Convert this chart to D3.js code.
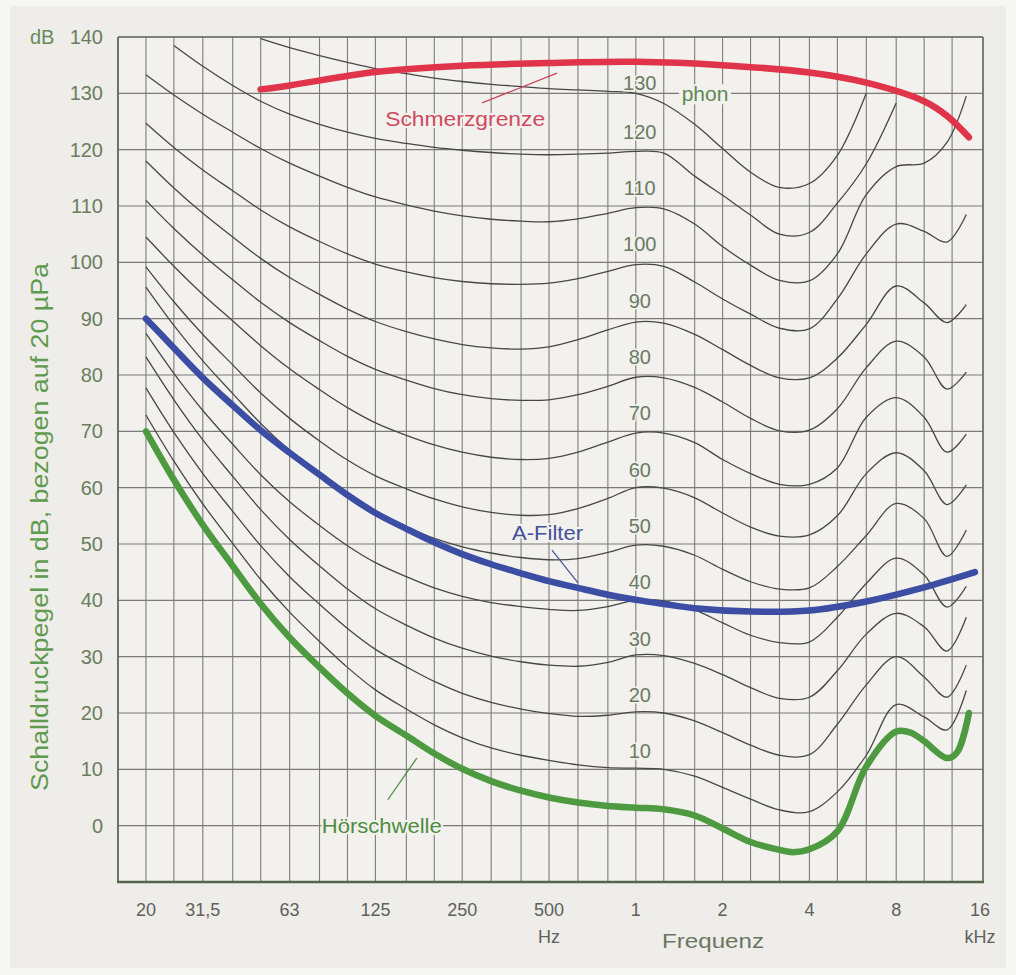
<!DOCTYPE html>
<html><head><meta charset="utf-8">
<script src="https://cdn.jsdelivr.net/npm/d3@7"></script>
<style>
html,body{margin:0;padding:0;background:#f7f7f5;}
svg{display:block;}
text{font-family:"Liberation Sans", Arial, Helvetica, sans-serif;}
</style></head><body>
<svg id="chart" width="1016" height="975"></svg>
<script>
// ---------- data ----------
const freqs = [20, 25, 31.5, 40, 50, 63, 80, 100, 125, 160, 200, 250, 315, 400, 500, 630, 800, 1000, 1250, 1600, 2000, 2500, 3150, 4000, 5000, 6300, 8000, 10000, 12000, 14000];
const phon130 = [null, null, null, null, 139.7, 138.1, 136.7, 135.5, 134.4, 133.5, 132.7, 132.1, 131.6, 131.2, 130.85, 130.6, 130.35, 130, 128.2, 124.5, 120.2, 116, 113.3, 114, 119, 130, null, null, null, null];
const phon120 = [null, 138.5, 134.8, 131.4, 128.6, 126.3, 124.5, 123.1, 122, 121.1, 120.4, 119.9, 119.5, 119.2, 119.1, 119.2, 119.4, 119.7, 119.4, 115.3, 111.9, 108.4, 105, 105.3, 110.5, 117.5, 128.3, null, null, null];
const phon110 = [133.3, 129.7, 126.3, 123.1, 120.2, 117.6, 115.3, 113.3, 111.6, 110.2, 109.1, 108.25, 107.65, 107.3, 107.2, 107.7, 108.7, 109.7, 109.5, 106.8, 102.8, 99.5, 96.8, 96.7, 101.5, 112, 117, 117.6, 121.3, 129.5];
const phon100 = [124.7, 120.4, 116.4, 112.7, 109.3, 106.3, 103.7, 101.5, 99.7, 98.3, 97.3, 96.6, 96.2, 96.1, 96.3, 97.1, 98.4, 99.6, 99.3, 96.5, 93.5, 90.8, 88.3, 88.2, 93.5, 101.5, 106.8, 105.5, 103.6, 108.5];
const phon90 = [118, 113.2, 108.7, 104.5, 100.7, 97.3, 94.3, 91.7, 89.5, 87.7, 86.4, 85.4, 84.8, 84.6, 85, 86.3, 88, 89.4, 89.2, 87.2, 84.5, 81.7, 79.5, 79.5, 83, 89, 95.8, 92.8, 89.3, 92.5];
const phon80 = [111, 106, 101.3, 96.9, 92.9, 89.3, 86.1, 83.3, 81, 79.1, 77.6, 76.5, 75.8, 75.5, 75.6, 76.5, 78, 79.6, 79.5, 77.8, 75.2, 72.3, 70.1, 70.2, 74, 81.3, 86, 83.2, 77.5, 80.5];
const phon70 = [104.5, 99.3, 94.3, 89.6, 85.2, 81.1, 77.4, 74.2, 71.5, 69.3, 67.6, 66.3, 65.4, 65, 65.2, 66.3, 68.1, 69.7, 69.7, 68, 65, 62.5, 60.6, 60.6, 63.5, 72.5, 76, 72.5, 66.3, 69.5];
const phon60 = [99.2, 93, 87.2, 81.8, 76.8, 72.3, 68.3, 64.9, 62.1, 59.8, 58, 56.6, 55.6, 55.1, 55.2, 56.3, 58.1, 60, 59.9, 58.2, 55.5, 53, 51.4, 51.6, 55, 62.5, 66.2, 63, 57, 60.5];
const phon50 = [95.6, 88.8, 82.5, 76.7, 71.4, 66.6, 62.3, 58.6, 55.5, 53, 51, 49.5, 48.4, 47.6, 47.2, 47.4, 48.5, 49.8, 49.6, 48, 45.5, 43.3, 42, 42.2, 46, 51.5, 57.2, 54.5, 47.8, 52.5];
const phon40 = [87.4, 80.3, 73.7, 67.7, 62.3, 57.5, 53.3, 49.7, 46.7, 44.2, 42.2, 40.7, 39.6, 38.9, 38.4, 38.2, 38.9, 40, 39.9, 38.3, 36, 33.8, 32.5, 32.6, 37, 43, 47.5, 44.5, 38.8, 42.5];
const phon30 = [83.2, 75.6, 68.5, 62, 56.1, 50.8, 46.1, 42, 38.5, 35.6, 33.3, 31.5, 30.1, 29.1, 28.5, 28.3, 29, 30.3, 30.2, 28.8, 26.8, 24.5, 22.6, 22.8, 27.5, 34, 37.7, 35.3, 31, 37];
const phon20 = [77.7, 69.8, 62.5, 55.8, 49.7, 44.2, 39.3, 35, 31.3, 28.2, 25.6, 23.5, 21.9, 20.7, 19.9, 19.4, 19.6, 20.2, 20, 18.6, 16.5, 14.3, 12.5, 12.6, 18, 25, 30, 26.4, 22.8, 28.5];
const phon10 = [72.9, 64.7, 57.1, 50.1, 43.7, 37.9, 32.7, 28.1, 24.1, 20.7, 17.9, 15.6, 13.8, 12.5, 11.6, 10.8, 10.3, 10.2, 10, 8.8, 6.8, 4.7, 2.8, 2.5, 6, 12.5, 21.5, 19.3, 17, 24];
const phonLevels = [10, 20, 30, 40, 50, 60, 70, 80, 90, 100, 110, 120, 130];

const thresholdFreqs = [20, 25, 31.5, 40, 50, 63, 80, 100, 125, 160, 200, 250, 315, 400, 500, 630, 800, 1000, 1250, 1600, 2000, 2500, 3150, 3500, 4000, 5000, 6300, 8000, 9000, 10000, 12000, 13000, 14300];
const thresholdDb = [70, 61.4, 53.4, 46.1, 39.4, 33.4, 28.1, 23.5, 19.5, 16, 12.8, 10.1, 7.9, 6.2, 5, 4.1, 3.5, 3.2, 2.9, 1.8, -0.5, -2.9, -4.3, -4.7, -4.2, -1, 10.5, 16.7, 16.5, 15, 12, 13, 20];

const aFilterFreqs = [20, 25, 31.5, 40, 50, 63, 80, 100, 125, 160, 200, 250, 315, 400, 500, 630, 800, 1000, 1600, 2500, 4000, 6300, 10000, 15000];
const aFilterDb = [90, 84.8, 79.5, 74.6, 70.2, 66.2, 62.3, 58.7, 55.5, 52.7, 50.3, 48.2, 46.4, 44.8, 43.4, 42.2, 41, 40.1, 38.6, 38, 38.2, 39.8, 42.3, 45];

const painFreqs = [50, 63, 125, 250, 500, 1000, 2000, 4000, 6300, 10000, 12000, 14300];
const painDb = [130.7, 131.4, 133.8, 134.9, 135.4, 135.6, 135, 133.7, 131.9, 128.6, 126, 122.2];

const gridFreqs = [16, 20, 25, 31.5, 40, 50, 63, 80, 100, 125, 160, 200, 250, 315, 400, 500, 630, 800, 1000, 1250, 1600, 2000, 2500, 3150, 4000, 5000, 6300, 8000, 10000, 12500, 16000];
const yTicks = [0, 10, 20, 30, 40, 50, 60, 70, 80, 90, 100, 110, 120, 130, 140];
const xTickFreqs = [20, 31.5, 63, 125, 250, 500, 1000, 2000, 4000, 8000, 16000];
const xTickLabels = ["20", "31,5", "63", "125", "250", "500", "1", "2", "4", "8", "16"];

// ---------- build ----------
const contourSeries = [phon10, phon20, phon30, phon40, phon50, phon60, phon70, phon80, phon90, phon100, phon110, phon120, phon130];

const svg = d3.select("#chart");
const L = 118, R = 983, T = 37, B = 882;

const x = d3.scaleLog().domain([16, 16000]).range([L, R]);
const y = d3.scaleLinear().domain([-10, 140]).range([B, T]);

// background panel
svg.append("rect").attr("x", 10).attr("y", 6).attr("width", 996).attr("height", 962).attr("fill", "#eeede9");
svg.append("rect").attr("x", L).attr("y", T).attr("width", R - L).attr("height", B - T).attr("fill", "#f2f1ed");

const grid = svg.append("g");
grid.selectAll("line.v").data(gridFreqs).join("line")
  .attr("x1", d => x(d)).attr("x2", d => x(d))
  .attr("y1", T).attr("y2", B)
  .attr("stroke", "#7d7d79").attr("stroke-width", 1.1);
grid.selectAll("line.h").data(d3.range(-10, 141, 10)).join("line")
  .attr("x1", L).attr("x2", R)
  .attr("y1", d => y(d)).attr("y2", d => y(d))
  .attr("stroke", "#7a7a76").attr("stroke-width", 1.1);
// frame
svg.append("line").attr("x1", L).attr("x2", L).attr("y1", T).attr("y2", B).attr("stroke", "#5d6358").attr("stroke-width", 1.6);
svg.append("line").attr("x1", R).attr("x2", R).attr("y1", T).attr("y2", B).attr("stroke", "#6d716a").attr("stroke-width", 1.6);
svg.append("line").attr("x1", L).attr("x2", R).attr("y1", T).attr("y2", T).attr("stroke", "#6d716a").attr("stroke-width", 1.6);
svg.append("line").attr("x1", L - 1).attr("x2", R + 1).attr("y1", B).attr("y2", B).attr("stroke", "#55654c").attr("stroke-width", 2.6);

// contours
const line = d3.line()
  .defined(d => d[1] !== null)
  .x(d => x(d[0])).y(d => y(d[1]))
  .curve(d3.curveCatmullRom.alpha(0.5));

const cg = svg.append("g");
contourSeries.forEach((vals) => {
  const pts = freqs.map((f, i) => [f, vals[i]]).filter(d => d[1] !== null);
  cg.append("path").attr("d", line(pts))
    .attr("fill", "none").attr("stroke", "#474745").attr("stroke-width", 1.3);
});

// phon labels
const lab = svg.append("g").attr("font-size", 20).attr("fill", "#6a7a64").attr("text-anchor", "middle");
phonLevels.forEach(p => {
  lab.append("text").attr("x", x(1000) + 4).attr("y", y(p) - (p === 130 ? 10 : 18))
    .attr("dominant-baseline", "central")
    .attr("stroke", "#f2f1ed").attr("stroke-width", 3).attr("paint-order", "stroke")
    .text(p);
});
svg.append("rect").attr("x", x(1738) - 26).attr("y", y(130) - 9).attr("width", 52).attr("height", 20).attr("fill", "#f2f1ed");
svg.append("text").attr("x", x(1738)).attr("y", y(130)).attr("dominant-baseline", "central")
  .attr("text-anchor", "middle").attr("font-size", 21).attr("fill", "#5d8a52").text("phon");

// thick curves
const thick = (fs, vs, color) => {
  const pts = fs.map((f, i) => [f, vs[i]]);
  svg.append("path").attr("d", line(pts)).attr("fill", "none")
    .attr("stroke", color).attr("stroke-width", 6.5).attr("stroke-linecap", "round").attr("stroke-linejoin", "round");
};
thick(thresholdFreqs, thresholdDb, "#4e9a41");
thick(aFilterFreqs, aFilterDb, "#3b4ea3");
thick(painFreqs, painDb, "#e0344b");

// annotations
const ann = (txt, f, db, color, len) => {
  svg.append("text").attr("x", x(f)).attr("y", y(db)).attr("text-anchor", "middle")
    .attr("dominant-baseline", "central").attr("font-size", 21).attr("fill", color)
    .attr("textLength", len).attr("lengthAdjust", "spacingAndGlyphs")
    .attr("stroke", "#f2f1ed").attr("stroke-width", 4).attr("paint-order", "stroke")
    .text(txt);
};
const leader = (f1, d1, f2, d2, color) => {
  svg.append("line").attr("x1", x(f1)).attr("y1", y(d1)).attr("x2", x(f2)).attr("y2", y(d2))
    .attr("stroke", color).attr("stroke-width", 1.3);
};
leader(293, 128.3, 533, 133.6, "#c9475a");
ann("Schmerzgrenze", 256, 125.6, "#cf4a5e", 160);
leader(512, 48.9, 630, 43.1, "#4b5a98");
ann("A-Filter", 494, 52, "#42519a", 71);
leader(138, 4.6, 174, 12, "#4e8c40");
ann("Hörschwelle", 131.5, 0, "#4f8c42", 120);

// y axis labels
const ya = svg.append("g").attr("font-size", 20).attr("fill", "#6b7d60").attr("text-anchor", "end");
yTicks.forEach(v => {
  ya.append("text").attr("x", 103).attr("y", y(v)).attr("dominant-baseline", "central").text(v);
});
svg.append("text").attr("x", 30).attr("y", y(140)).attr("dominant-baseline", "central")
  .attr("font-size", 20).attr("fill", "#6b8a5c").text("dB");

// y title
svg.append("text").attr("transform", `translate(40,${(262 + 792) / 2}) rotate(-90)`)
  .attr("text-anchor", "middle").attr("dominant-baseline", "central")
  .attr("font-size", 23).attr("fill", "#5f9a4f")
  .attr("textLength", 528).attr("lengthAdjust", "spacingAndGlyphs")
  .text("Schalldruckpegel in dB, bezogen auf 20 µPa");

// x axis labels
const xa = svg.append("g").attr("font-size", 18).attr("fill", "#5f615c").attr("text-anchor", "middle");
xTickFreqs.forEach((f, i) => {
  xa.append("text").attr("x", x(f) + (i === xTickFreqs.length - 1 ? -3 : 0)).attr("y", 910)
    .attr("dominant-baseline", "central").text(xTickLabels[i]);
});
xa.append("text").attr("x", x(500)).attr("y", 937).attr("dominant-baseline", "central").text("Hz");
xa.append("text").attr("x", x(16000) - 3).attr("y", 937).attr("dominant-baseline", "central").text("kHz");
svg.append("text").attr("x", 713).attr("y", 940).attr("text-anchor", "middle").attr("dominant-baseline", "central")
  .attr("font-size", 21).attr("fill", "#6a7664").attr("textLength", 102).attr("lengthAdjust", "spacingAndGlyphs")
  .text("Frequenz");
</script>
</body></html>
